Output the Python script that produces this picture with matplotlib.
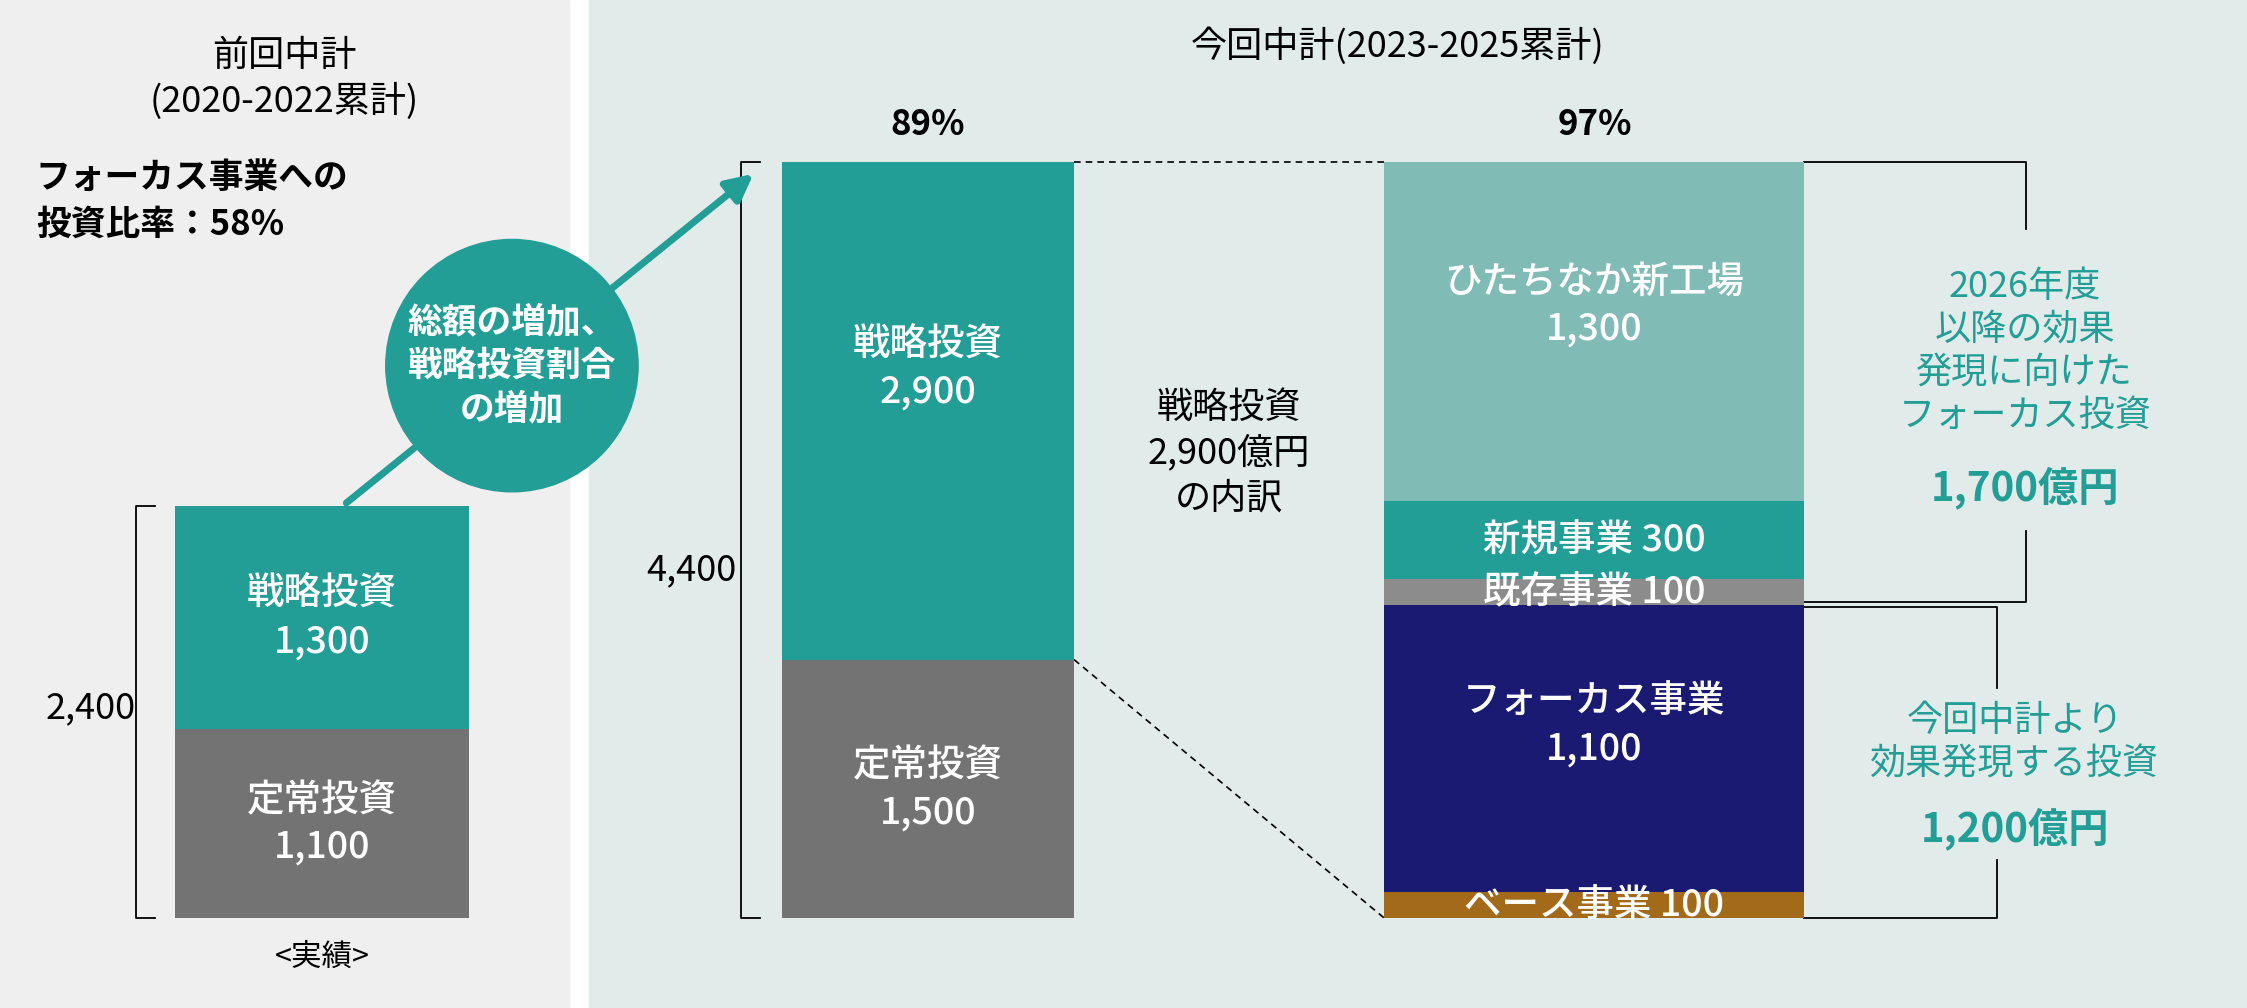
import matplotlib.pyplot as plt
from matplotlib.patches import Rectangle, Circle

plt.rcParams['font.family'] = ['Noto Sans CJK JP', 'DejaVu Sans']

W, H = 1567, 703  # layout units of the reference

prev_labels = ['定常投資\n1,100', '戦略投資\n1,300']
prev_values = [1100, 1300]
cur_labels = ['定常投資\n1,500', '戦略投資\n2,900']
cur_values = [1500, 2900]
brk_labels = ['ベース事業 100', 'フォーカス事業\n1,100', '既存事業 100', '新規事業 300', 'ひたちなか新工場\n1,300']
brk_values = [100, 1100, 100, 300, 1300]

teal = '#229e96'
gray = '#737373'
brk_colors = ['#a36a1a', '#1a1a72', '#8c8c8c', teal, '#80bbb6']

fig = plt.figure(figsize=(22.47, 10.08), dpi=100)
ax = fig.add_axes([0, 0, 1, 1])
ax.set_xlim(0, W)
ax.set_ylim(H, 0)
ax.axis('off')

ax.add_patch(Rectangle((0, 0), 397, H, color='#efefef', zorder=0))
ax.add_patch(Rectangle((411, 0), W - 411, H, color='#e1ebea', zorder=0))


def bar_axes(x0, x1, ytop, total):
    a = fig.add_axes([x0 / W, (H - 640) / H, (x1 - x0) / W, (640 - ytop) / H])
    a.set_xlim(0, 1)
    a.set_ylim(0, total)
    a.axis('off')
    return a


def stack(a, values, labels, colors, fs, offsets=None):
    bottom = 0
    for i, (v, lab, c) in enumerate(zip(values, labels, colors)):
        a.bar(0.5, v, width=1, bottom=bottom, color=c)
        dy = offsets[i] if offsets else 0
        a.text(0.5, bottom + v / 2 + dy, lab, ha='center', va='center', color='white',
               fontsize=fs, fontweight='medium', linespacing=1.3)
        bottom += v


a1 = bar_axes(122, 327, 353, sum(prev_values))
stack(a1, prev_values, prev_labels, [gray, teal], 27)
a2 = bar_axes(545, 749, 113, sum(cur_values))
stack(a2, cur_values, cur_labels, [gray, teal], 27, offsets=[0, 250])
a3 = bar_axes(965, 1258, 113, sum(brk_values))
stack(a3, brk_values, brk_labels, brk_colors, 27, offsets=[0, 90, 0, 0, 100])

lk = dict(color='black', lw=1.3)
# brackets
ax.plot([108, 95, 95, 108], [353, 353, 640, 640], **lk)
ax.plot([530, 517, 517, 530], [113, 113, 640, 640], **lk)
ax.plot([1258, 1413, 1413], [113, 113, 160], **lk)
ax.plot([1413, 1413, 1258], [370, 420, 420], **lk)
ax.plot([1258, 1393, 1393], [423, 423, 480], **lk)
ax.plot([1393, 1393, 1258], [600, 640, 640], **lk)
ax.plot([749, 965], [113, 113], color='black', lw=1.2, ls=(0, (4, 3)))
ax.plot([749, 965], [460, 640], color='black', lw=1.2, ls=(0, (4, 3)))

# arrow and circle
ax.annotate('', xy=(527, 120), xytext=(240, 352),
            arrowprops=dict(arrowstyle='-|>,head_length=1.6,head_width=0.8', color=teal, lw=5))
ax.add_patch(Circle((357, 255), 88, color=teal, zorder=5))
ax.text(357, 255, '総額の増加、\n戦略投資割合\nの増加', ha='center', va='center', color='white',
        fontsize=25, fontweight='bold', linespacing=1.3, zorder=6)

ax.text(198, 55, '前回中計\n(2020-2022累計)', ha='center', va='center', fontsize=26, linespacing=1.3)
ax.text(25, 140, 'フォーカス事業への\n投資比率：58%', ha='left', va='center', fontsize=25,
        fontweight='bold', linespacing=1.45)
ax.text(225, 668, '<実績>', ha='center', va='center', fontsize=22)
ax.text(63, 494, '2,400', ha='center', va='center', fontsize=26)
ax.text(482, 398, '4,400', ha='center', va='center', fontsize=26)
ax.text(975, 32, '今回中計(2023-2025累計)', ha='center', va='center', fontsize=26)
ax.text(647, 87, '89%', ha='center', va='center', fontsize=25, fontweight='bold')
ax.text(1112, 87, '97%', ha='center', va='center', fontsize=25, fontweight='bold')
ax.text(857, 316, '戦略投資\n2,900億円\nの内訳', ha='center', va='center', fontsize=26, linespacing=1.3)
ax.text(1412, 245, '2026年度\n以降の効果\n発現に向けた\nフォーカス投資', ha='center', va='center',
        fontsize=26, color=teal, linespacing=1.25)
ax.text(1412, 340, '1,700億円', ha='center', va='center', fontsize=29, color=teal, fontweight='bold')
ax.text(1405, 518, '今回中計より\n効果発現する投資', ha='center', va='center', fontsize=26, color=teal,
        linespacing=1.25)
ax.text(1405, 578, '1,200億円', ha='center', va='center', fontsize=29, color=teal, fontweight='bold')

fig.savefig('out.png', dpi=100)
